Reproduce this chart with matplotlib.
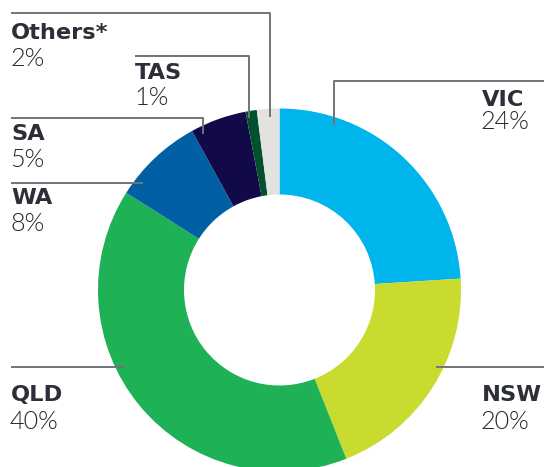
import matplotlib
matplotlib.use("Agg")
import matplotlib.pyplot as plt

# share by state
states = ["VIC", "NSW", "QLD", "WA", "SA", "TAS", "Others*"]
shares = [24, 20, 40, 8, 5, 1, 2]
colors = ["#00b5ec", "#cadb2f", "#1eb155", "#0060a3", "#120a48", "#02502d", "#e2e3e0"]

W, H = 544, 467
TEXT = "#2c2e38"
LINE = "#727379"

fig = plt.figure(figsize=(W / 100, H / 100), dpi=100)
ax = fig.add_axes([0, 0, 1, 1])

cx, cy, R = 279.5, H - 290, 181.5
ax.pie(shares, colors=colors, startangle=90, counterclock=False,
       radius=R, center=(cx, cy),
       wedgeprops=dict(width=86, edgecolor="none", linewidth=0))

ax.set_xlim(0, W)
ax.set_ylim(0, H)
ax.set_aspect("equal")
ax.axis("off")


def py(y):
    # pixel row -> data y
    return H - y


# leader lines, in pixel coords (x, y)
leaders = {
    "Others*": [(11, 13), (270, 13), (270, 117)],
    "TAS": [(135, 56), (249, 56), (249, 118)],
    "SA": [(11, 118), (203, 118), (203, 134)],
    "WA": [(11, 183), (143, 183)],
    "QLD": [(11, 367), (124, 367)],
    "NSW": [(436, 367), (544, 367)],
    "VIC": [(544, 81), (334, 81), (334, 125)],
}
for pts in leaders.values():
    xs = [p[0] for p in pts]
    ys = [py(p[1]) for p in pts]
    ax.plot(xs, ys, color=LINE, lw=1.4, solid_capstyle="butt", zorder=3)

# label anchor: left x, baseline of name, baseline of share
label_pos = {
    "Others*": (11, 39, 66),
    "TAS": (135, 79, 105),
    "SA": (11, 140, 167),
    "WA": (11, 204, 231),
    "QLD": (11, 401, 429),
    "NSW": (482, 401, 429),
    "VIC": (482, 106, 129),
}
for name, val in zip(states, shares):
    x, yb1, yb2 = label_pos[name]
    ax.text(x, py(yb1), name, fontsize=16.2, fontweight="bold", family="DejaVu Sans",
            color=TEXT, va="baseline", ha="left")
    ax.text(x - 1, py(yb2), f"{val}%", fontsize=18.2, fontweight=300, family="Lato",
            color="#26272e", va="baseline", ha="left")

fig.savefig("out.png", dpi=100)
